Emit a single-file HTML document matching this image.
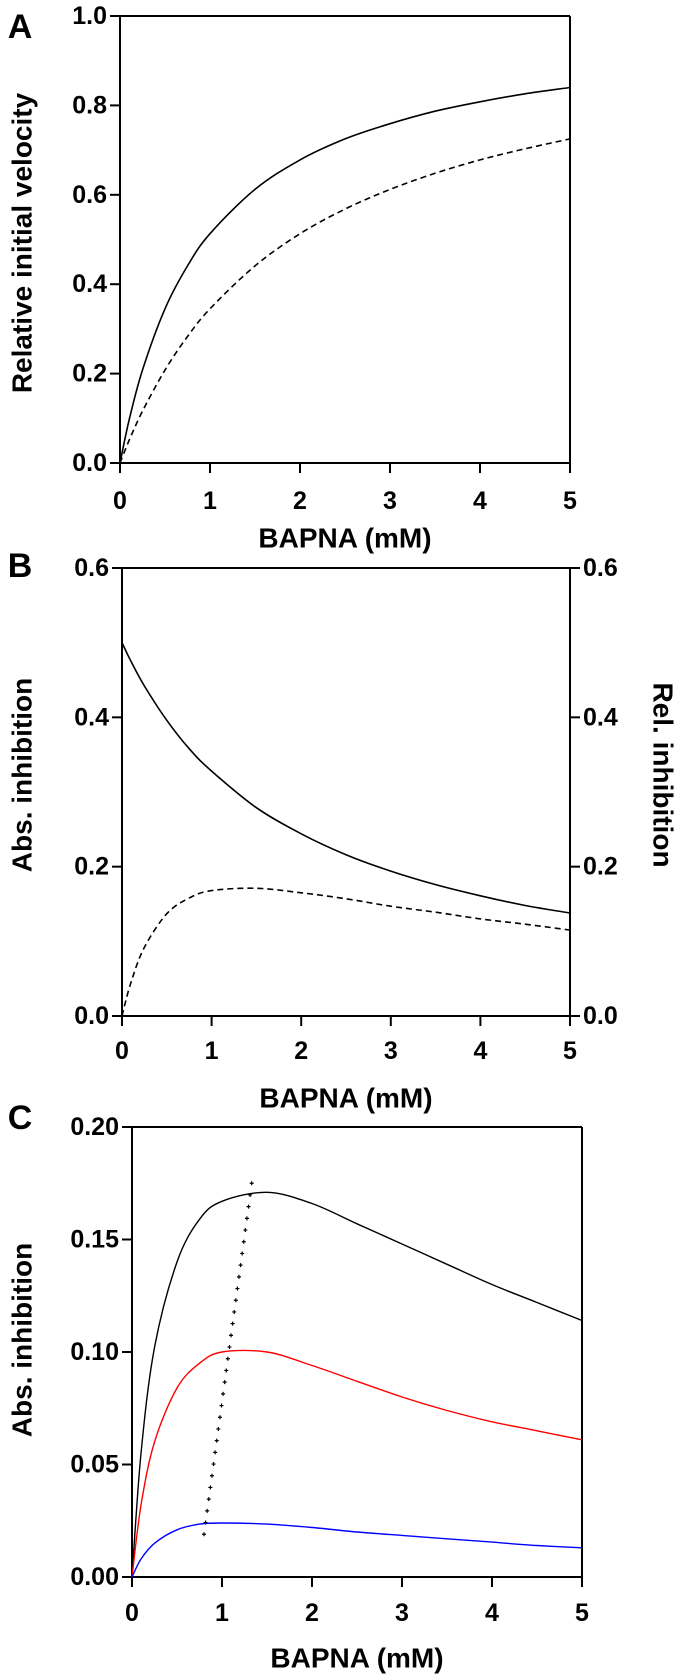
<!DOCTYPE html>
<html><head><meta charset="utf-8"><style>
html,body{margin:0;padding:0;background:#fff}
svg{display:block;font-family:"Liberation Sans",Arial,sans-serif;font-weight:bold}
</style></head><body>
<svg id="fig" width="685" height="1678" viewBox="0 0 685 1678" xmlns="http://www.w3.org/2000/svg"></svg>
<script>
const xs=[0,0.1,0.25,0.5,0.75,1,1.5,2,2.5,3,3.5,4,4.5,5];
const aSolid=[0,0.095,0.208,0.345,0.441,0.513,0.612,0.678,0.725,0.759,0.787,0.808,0.826,0.840];
const aDashed=[0,0.05,0.116,0.208,0.283,0.345,0.441,0.513,0.568,0.612,0.648,0.678,0.703,0.725];
const bRel=[0.5,0.475,0.442,0.396,0.358,0.328,0.279,0.244,0.216,0.194,0.176,0.161,0.148,0.138];
const bAbs=[0,0.045,0.092,0.137,0.158,0.168,0.171,0.165,0.157,0.147,0.139,0.130,0.123,0.115];
const cBlack=[0,0.055,0.102,0.140,0.159,0.167,0.171,0.166,0.157,0.148,0.139,0.130,0.122,0.114];
const cRed=[0,0.032,0.060,0.084,0.095,0.100,0.100,0.094,0.087,0.080,0.074,0.069,0.065,0.061];
const cBlue=[0,0.008,0.015,0.021,0.0235,0.024,0.0235,0.022,0.020,0.0185,0.017,0.0155,0.014,0.013];
const peakX=[0.8,1.33];
const peakY=[0.019,0.175];
const xTicks=[0,1,2,3,4,5];
const aTicks=[0,0.2,0.4,0.6,0.8,1.0];
const bTicks=[0,0.2,0.4,0.6];
const cTicks=[0,0.05,0.10,0.15,0.20];

const svg=document.getElementById('fig');
const NS='http://www.w3.org/2000/svg';
function mk(tag,attrs,parent){const e=document.createElementNS(NS,tag);for(const k in attrs)e.setAttribute(k,attrs[k]);(parent||svg).appendChild(e);return e;}
function txt(s,x,y,size,anchor,parent,rot){const t=mk('text',{x:x,y:y,'font-size':size,'text-anchor':anchor||'middle','dominant-baseline':'central'},parent);if(rot)t.setAttribute('transform','rotate('+rot+' '+x+' '+y+')');t.textContent=s;return t;}
function pathFrom(px,py){let d='M'+px[0]+','+py[0];for(let i=0;i<px.length-1;i++){const p0=i>0?i-1:i,p3=i+2<px.length?i+2:i+1;
const c1x=px[i]+(px[i+1]-px[p0])/6,c1y=py[i]+(py[i+1]-py[p0])/6,c2x=px[i+1]-(px[p3]-px[i])/6,c2y=py[i+1]-(py[p3]-py[i])/6;
d+=' C'+c1x.toFixed(1)+','+c1y.toFixed(1)+' '+c2x.toFixed(1)+','+c2y.toFixed(1)+' '+px[i+1].toFixed(1)+','+py[i+1].toFixed(1);}return d;}

function panel(cfg){
 const g=mk('g',{});
 
 
 const X=v=>cfg.x0+(cfg.x1-cfg.x0)*v/5;
 const Y=v=>cfg.y0+(cfg.y1-cfg.y0)*v/cfg.ymax;
 const frame=mk('path',{d:'M'+(cfg.x0-10)+','+cfg.y1+' H'+(cfg.x1+(cfg.right?10:0))+' M'+(cfg.x0-10)+','+cfg.y0+' H'+(cfg.x1+(cfg.right?10:0))+' M'+cfg.x0+','+cfg.y1+' V'+(cfg.y0+10)+' M'+cfg.x1+','+cfg.y1+' V'+(cfg.y0+10),stroke:'#000','stroke-width':2,fill:'none'},g);
 
 
 xTicks.forEach(v=>{
  const t=mk('line',{x1:X(v),x2:X(v),y1:cfg.y0,y2:cfg.y0+10,stroke:'#000','stroke-width':2},g);
  
  
  const l=txt(String(v),X(v),cfg.xlabY,25,'middle',g);
  
  
 });
 cfg.yt.forEach(v=>{
  const t=mk('line',{x1:cfg.x0-10,x2:cfg.x0,y1:Y(v),y2:Y(v),stroke:'#000','stroke-width':2},g);
  
  
  const l=txt(v.toFixed(cfg.dec),cfg.x0-13,Y(v),25,'end',g);
  
  
  if(cfg.right){
   const t2=mk('line',{x1:cfg.x1,x2:cfg.x1+10,y1:Y(v),y2:Y(v),stroke:'#000','stroke-width':2},g);
   
   
   const l2=txt(v.toFixed(cfg.dec),cfg.x1+13,Y(v),25,'start',g);
   
   
  }
 });
 const xt=txt('BAPNA (mM)',(cfg.x0+cfg.x1)/2,cfg.titleY,28,'middle',g);
 
 
 const yt=txt(cfg.ytitle,22,cfg.ytitleY,28,'middle',g,-90);
 
 
 if(cfg.right){
  const rt=txt('Rel. inhibition',663,cfg.ytitleY,28,'middle',g,90);
  
  
 }
 const pl=txt(cfg.letter,20,cfg.letterY,34,'middle',g);
 
 
 cfg.series.forEach(s=>{
  const p=mk('path',{d:pathFrom(xs.map(X),s.v.map(Y)),stroke:s.c,'stroke-width':s.w||1.6,fill:'none'},g);
  if(s.dash)p.setAttribute('stroke-dasharray',s.dash);
  
  
 });
 return {g,X,Y};
}

panel({name:'panel-a',x0:120,x1:570,y0:463,y1:16,ymax:1.0,yt:aTicks,dec:1,xlabY:501,titleY:538,ytitle:'Relative initial velocity',ytitleY:243,letter:'A',letterY:27,
 series:[{v:aSolid,c:'#000',name:'curve-control'},{v:aDashed,c:'#000',dash:'6,4',name:'curve-inhibited'}]});
panel({name:'panel-b',x0:122,x1:570,y0:1016,y1:568,ymax:0.6,yt:bTicks,dec:1,right:true,xlabY:1051,titleY:1098,ytitle:'Abs. inhibition',ytitleY:775,letter:'B',letterY:566,
 series:[{v:bRel,c:'#000',name:'curve-relative-inhibition'},{v:bAbs,c:'#000',dash:'6,4',name:'curve-absolute-inhibition'}]});
const C=panel({name:'panel-c',x0:132,x1:582,y0:1577,y1:1127,ymax:0.20,yt:cTicks,dec:2,xlabY:1613,titleY:1658,ytitle:'Abs. inhibition',ytitleY:1340,letter:'C',letterY:1118,
 series:[{v:cBlack,c:'#000',w:1.4,name:'curve-black'},{v:cRed,c:'#ff0000',w:1.4,name:'curve-red'},{v:cBlue,c:'#0000ff',w:1.4,name:'curve-blue'}]});
const ax=C.X(peakX[0]),ay=C.Y(peakY[0]),bx=C.X(peakX[1]),by=C.Y(peakY[1]);
const L=Math.hypot(bx-ax,by-ay),n=Math.round(L/12);
for(let i=0;i<=n;i++){
 const px=ax+(bx-ax)*i/n,py=ay+(by-ay)*i/n;
 const m=mk('path',{d:'M'+(px-2)+','+py+' H'+(px+2)+' M'+px+','+(py-2)+' V'+(py+2),stroke:'#000','stroke-width':1.2},C.g);
 
 
}
</script>
</body></html>
